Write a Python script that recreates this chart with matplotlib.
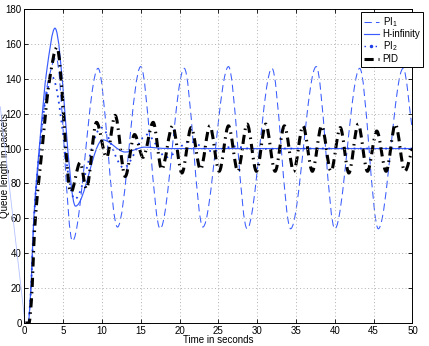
import numpy as np
import matplotlib
matplotlib.use("Agg")
import matplotlib.pyplot as plt
from matplotlib.path import Path
from matplotlib.patches import PathPatch
from matplotlib.lines import Line2D

plt.rcParams['font.family'] = ['Liberation Sans', 'DejaVu Sans']
plt.rcParams['mathtext.default'] = 'regular'

# values: turning points (time in s, queue in packets)
pi1_t = [0, 0.5, 0.8, 1.25, 2.0, 2.9, 4.1, 6.2, 9.5, 12.0, 15.0, 17.5, 20.6, 23.0,
         26.3, 28.7, 31.9, 34.3, 37.6, 40.0, 43.2, 45.6, 48.8, 50]
pi1_q = [0, 0, 15, 60, 100, 135, 152, 47, 146, 55, 147, 54, 146, 55,
         147, 54, 146, 54, 147, 54, 146, 54, 146, 110]

hinf_t = [0, 0.5, 0.8, 1.25, 2.0, 2.9, 3.95, 6.6, 10.1, 13.0, 15.5, 18.5, 50]
hinf_q = [0, 0, 16, 62, 104, 145, 169, 67, 105, 98, 100.8, 100, 100]

pi2_t = [0, 0.5, 0.8, 1.25, 2.0, 2.9, 3.6, 6.5, 9.9, 12.8, 15.8, 18.3, 21.3,
         24.2, 27.0, 29.8, 33.0, 50]
pi2_q = [0, 0, 15, 60, 101, 132, 141, 71, 112, 89, 108, 95, 104,
         98.5, 101.2, 99.5, 100, 100]

pid_t = [0, 0.6, 0.9, 1.35, 2.3, 3.2, 4.2, 6.0, 7.2, 8.0, 9.3, 10.6, 11.7, 13.0,
         14.2, 15.3, 16.6, 17.7, 19.1, 20.3, 21.5, 22.7, 23.9, 25.1, 26.3, 27.5,
         28.7, 29.9, 31.1, 32.3, 33.5, 34.7, 35.9, 37.1, 38.3, 39.5, 40.7, 41.8,
         43.0, 44.2, 45.4, 46.6, 47.8, 49.0, 50]
pid_q = [0, 0, 12, 55, 100, 138, 158, 75, 92, 77, 115, 95, 119, 84,
         108, 95, 115, 88, 113, 86, 112, 88, 113, 87, 113, 87,
         114, 87, 114, 87, 113, 87, 113, 87, 113, 87, 112, 86,
         114, 87, 110, 87, 114, 87, 100]

# faint stray line at the left edge of the original
stray_t = [-3.1, 0.1]
stray_q = [124, 0]

labels = ['PI$_1$', 'H-infinity', 'PI$_2$', 'PID']
blue = '#3a5cff'


def smooth_path(t, y):
    """Bezier path through the points, flat at turning points (pchip-like)."""
    t = np.asarray(t, float)
    y = np.asarray(y, float)
    h = np.diff(t)
    d = np.diff(y) / h
    m = np.zeros_like(y)
    for k in range(1, len(y) - 1):
        if d[k - 1] * d[k] > 0:
            w1 = 2 * h[k] + h[k - 1]
            w2 = h[k] + 2 * h[k - 1]
            m[k] = (w1 + w2) / (w1 / d[k - 1] + w2 / d[k])
    m[-1] = d[-1]
    verts = [(t[0], y[0])]
    codes = [Path.MOVETO]
    for k in range(len(h)):
        verts += [(t[k] + h[k] / 3, y[k] + m[k] * h[k] / 3),
                  (t[k + 1] - h[k] / 3, y[k + 1] - m[k + 1] * h[k] / 3),
                  (t[k + 1], y[k + 1])]
        codes += [Path.CURVE4] * 3
    return Path(verts, codes)


fig = plt.figure(figsize=(4.29, 3.46), dpi=100)
ax = fig.add_axes([24.3 / 429, 1 - 323 / 346, (412.5 - 24.3) / 429, (323 - 9) / 346])

styles = [
    dict(color=blue, lw=0.75, ls=(0, (7, 4))),
    dict(color=blue, lw=0.85, ls='-'),
    dict(color='#1f3fe8', lw=1.3, ls=(0, (1, 2.5))),
    dict(color='black', lw=2.2, ls=(0, (3, 1.6, 0.5, 1.6))),
]
series = [(pi1_t, pi1_q), (hinf_t, hinf_q), (pi2_t, pi2_q), (pid_t, pid_q)]

for (tt, qq), st in zip(series, styles):
    patch = PathPatch(smooth_path(tt, qq), fill=False, edgecolor=st['color'],
                      linewidth=st['lw'], linestyle=st['ls'], transform=ax.transData)
    ax.add_patch(patch)

ax.plot(stray_t, stray_q, color='#b4c2ff', lw=0.6, clip_on=False)

ax.set_xlim(0, 50)
ax.set_ylim(0, 180)
ax.set_xticks(np.arange(0, 51, 5))
ax.set_yticks(np.arange(0, 181, 20))
ax.grid(True, color='#b0b0b0', ls=(0, (1, 2.5)), lw=0.7)
ax.tick_params(direction='in', length=3, width=0.6, labelsize=7, pad=2,
               top=True, right=True)
for sp in ax.spines.values():
    sp.set_linewidth(0.7)

ax.set_xlabel('Time in seconds', fontsize=7)
ax.set_ylabel('Queue length in packets', fontsize=7)
ax.xaxis.set_label_coords(0.5, -0.038)
ax.yaxis.set_label_coords(-0.036, 0.5)

handles = []
for st in styles:
    handles.append(Line2D([], [], color=st['color'], lw=st['lw'], ls=st['ls']))
handles[2] = Line2D([], [], color=styles[2]['color'], lw=1.0, ls=(0, (1, 3)),
                    marker='.', markersize=3)
leg = ax.legend(handles, labels, loc='upper left',
                bbox_to_anchor=(360.7 / 429, 1 - 12 / 346), bbox_transform=fig.transFigure,
                fontsize=7, handlelength=1.6, handletextpad=0.35, labelspacing=0.05,
                borderpad=0.3, borderaxespad=0, fancybox=False, framealpha=1,
                edgecolor='black')
leg.get_frame().set_linewidth(0.7)

fig.savefig('out.png', dpi=100)
